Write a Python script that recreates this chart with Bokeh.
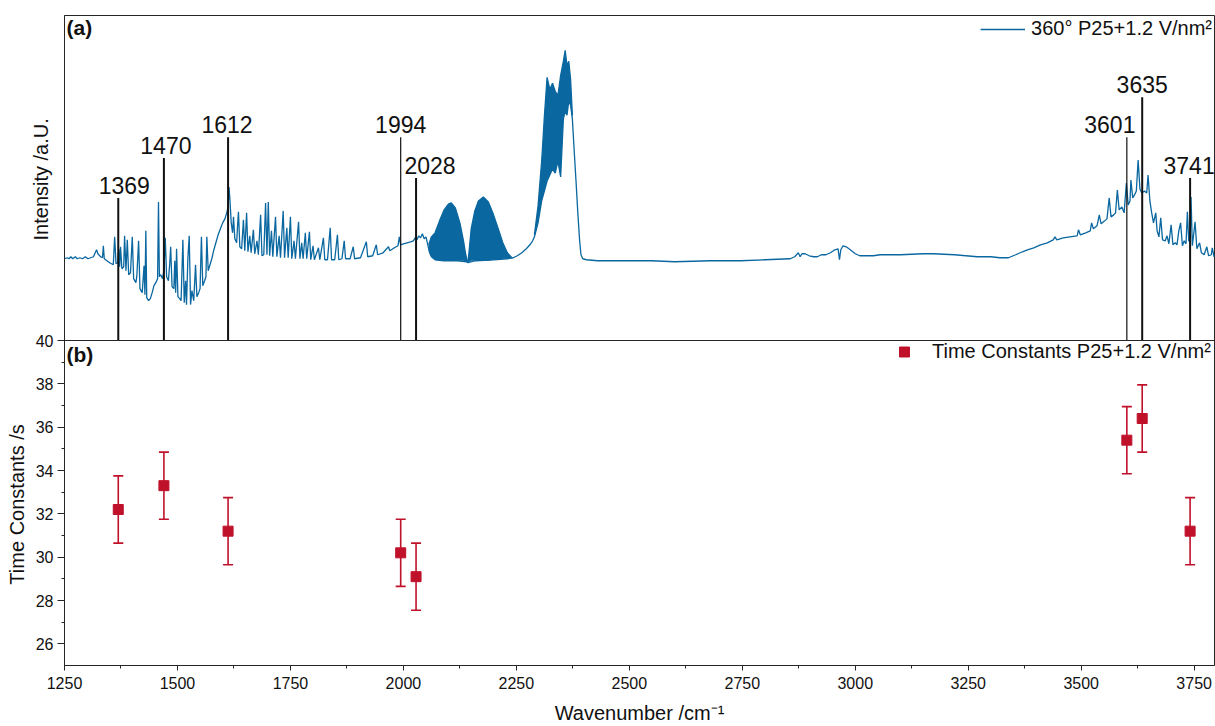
from bokeh.plotting import figure
from bokeh.models import (Range1d, FixedTicker, SingleIntervalTicker, Span, Label,
                          Legend, LegendItem, ColumnDataSource, Whisker, TeeHead)
from bokeh.core.properties import value
from bokeh.embed import file_html
from bokeh.resources import INLINE

FONT = "Liberation Sans"
BLUE = "#0A67A0"
RED = "#C0112B"
DARK = "#262626"
TXT = "#111111"

# ---------------- data ----------------
# IR spectrum, panel (a): wavenumber /cm-1 and intensity (arbitrary units)
spec_wn = [1250, 1256, 1260, 1264, 1268, 1274, 1278, 1284, 1290, 1296, 1302, 1308, 1314, 1318, 1321, 1324, 1330, 1334,
           1336, 1338, 1344, 1350, 1354, 1358, 1361, 1364, 1368, 1370, 1372, 1374, 1377, 1381, 1383, 1386, 1389, 1392,
           1396, 1400, 1403, 1408, 1410, 1414, 1417, 1422, 1426, 1428, 1430, 1432, 1436, 1440, 1444, 1448, 1452, 1456,
           1458, 1460, 1463, 1467, 1470, 1473, 1476, 1480, 1483, 1485, 1488, 1492, 1494, 1496, 1498, 1501, 1505, 1508,
           1510, 1512, 1515, 1518, 1520, 1523, 1526, 1529, 1532, 1536, 1540, 1543, 1547, 1550, 1553, 1556, 1560, 1563,
           1565, 1568, 1572, 1576, 1580, 1585, 1590, 1595, 1600, 1605, 1609, 1612, 1614, 1616, 1619,
           1622, 1624, 1627, 1631, 1633, 1635, 1638, 1642, 1646, 1649, 1653, 1656, 1660, 1663, 1668, 1671, 1676, 1679,
           1684, 1687, 1691, 1695, 1698, 1701, 1704, 1708, 1711, 1717, 1720, 1725, 1728, 1734, 1737, 1742, 1745, 1750,
           1753, 1758, 1761, 1768, 1771, 1775, 1778, 1783, 1786, 1792, 1795, 1800, 1803, 1812, 1815, 1823, 1826, 1832,
           1838, 1841, 1848, 1854, 1857, 1864, 1869, 1872, 1882, 1889, 1892, 1905, 1918, 1921, 1932, 1940, 1943, 1955,
           1967, 1970, 1980, 1988, 1991, 1994,
           2000, 2008, 2016, 2022, 2026, 2030, 2034, 2038, 2042, 2046, 2050, 2054, 2058, 2062, 2070, 2090, 2120, 2140,
           2143, 2160, 2200, 2230, 2243, 2252, 2262, 2272, 2280, 2286, 2290, 2298, 2306, 2312, 2318, 2324, 2330, 2336,
           2342, 2348, 2354, 2358, 2362, 2366, 2370, 2374, 2378, 2382, 2386, 2390, 2393, 2397, 2405, 2430,
           2496, 2550, 2600, 2680, 2746, 2800, 2856, 2866, 2874, 2878, 2882, 2889, 2898, 2908, 2916, 2925, 2935, 2945,
           2955, 2962, 2965, 2968, 2973, 2980, 2989, 3000, 3010, 3018, 3040, 3055, 3100, 3150, 3173, 3220, 3270, 3300,
           3320, 3339,
           3355, 3370, 3381, 3395, 3410, 3425, 3438, 3442, 3446, 3460, 3475, 3491, 3494, 3498, 3510, 3520, 3523, 3527,
           3535, 3540, 3544, 3552, 3557, 3562, 3566, 3572, 3576, 3580, 3584, 3590, 3595, 3600, 3604, 3608, 3610, 3614,
           3618, 3622, 3626, 3630, 3634, 3640, 3645, 3648, 3652, 3656, 3660, 3665, 3668, 3672, 3676, 3680, 3686, 3690,
           3694, 3699, 3703, 3708, 3712, 3716, 3720, 3724, 3728, 3732, 3735, 3738, 3741, 3743, 3746, 3752, 3756, 3762,
           3766, 3772, 3778, 3782, 3788, 3790, 3794, 3796]
spec_int = [82, 83, 82, 84, 82, 84, 82, 83, 82, 84, 82, 83, 84, 88, 91, 87, 84, 83,
            95, 82, 80, 78, 77, 76, 104, 77, 78, 92, 74, 94, 72, 74, 105, 70, 101, 66,
            68, 104, 62, 58, 64, 100, 52, 48, 75, 46, 110, 43, 40, 42, 48, 55, 58, 62,
            139, 64, 66, 62, 70, 103, 64, 60, 78, 94, 54, 52, 80, 48, 92, 44, 42, 40,
            70, 101, 38, 60, 36, 82, 105, 36, 50, 40, 76, 44, 48, 52, 104, 55, 60, 64,
            104, 70, 76, 82, 90, 98, 106, 112, 118, 122, 128, 134, 154, 142, 118,
            108, 124, 102, 98, 115, 129, 94, 92, 121, 90, 128, 89, 105, 88, 111, 87, 100, 86,
            126, 85, 86, 138, 86, 139, 85, 110, 84, 124, 84, 105, 83, 130, 83, 113, 83, 124,
            82, 100, 82, 119, 82, 98, 82, 108, 82, 109, 81, 95, 81, 93, 81, 103, 81, 81,
            113, 81, 81, 106, 81, 82, 100, 82, 82, 94, 82, 83, 99, 84, 85, 96, 86, 88,
            94, 90, 93, 95, 104, 96,
            97, 98, 99, 100, 103, 101, 105, 103, 107, 102, 104, 96, 88, 84, 81, 80, 80, 79,
            78, 80, 81, 82, 83, 85, 88, 92, 96, 100, 104, 118, 140, 150, 160, 166, 172, 168,
            180, 164, 222, 230, 226, 240, 236, 222, 190, 160, 128, 100, 86, 82, 81, 80,
            80, 80, 79, 80, 80, 81, 82, 84, 88, 84, 87, 87, 85, 84, 84, 86, 86, 88,
            91, 92, 81, 91, 95, 94, 91, 87, 85, 85, 85, 86, 86, 87, 87, 86, 84, 84,
            83, 83,
            86, 89, 91, 93, 96, 98, 101, 104, 101, 103, 104, 105, 111, 106, 108, 110, 118, 112,
            115, 126, 117, 120, 122, 143, 124, 126, 128, 151, 131, 134, 128, 158, 136, 140, 161, 143,
            146, 150, 181, 152, 148, 150, 148, 166, 140, 128, 118, 128, 110, 104, 123, 101, 100, 105,
            97, 116, 96, 98, 96, 110, 118, 95, 100, 97, 129, 100, 99, 144, 95, 119, 92, 98,
            88, 86, 94, 85, 86, 93, 84, 85]

# densely packed rotational bands, drawn as filled envelopes (low / high)
band1_wn = [2056, 2062, 2070, 2080, 2090, 2100, 2106, 2115, 2125, 2133, 2138, 2142]
band1_hi = [96, 104, 108, 120, 131, 137, 138, 133, 118, 100, 86, 79]
band1_lo = [90, 84, 81, 80, 80, 80, 80, 80, 80, 80, 79, 78]
band2_wn = [2143, 2150, 2158, 2166, 2177, 2188, 2198, 2210, 2220, 2230, 2240]
band2_hi = [78, 112, 130, 140, 144, 139, 128, 112, 98, 88, 83]
band2_lo = [78, 80, 80, 80, 80, 80, 81, 81, 82, 82, 83]
band3_wn = [2290, 2298, 2306, 2312, 2318, 2324, 2330, 2336, 2342, 2348, 2354, 2358, 2362, 2366, 2370, 2374]
band3_hi = [106, 135, 180, 225, 264, 252, 258, 250, 246, 266, 280, 291, 276, 280, 262, 226]
band3_lo = [104, 118, 140, 150, 160, 166, 172, 168, 180, 164, 222, 230, 226, 240, 236, 222]

# marked peaks and their time constants, panel (b)
peaks = [1369, 1470, 1612, 1994, 2028, 3601, 3635, 3741]
peak_labels = ["1369", "1470", "1612", "1994", "2028", "3601", "3635", "3741"]
peak_line_tops = [143, 183, 204, 204, 163, 204, 244, 163]
time_const = [32.2, 33.3, 31.2, 30.2, 29.1, 35.4, 36.4, 31.2]
time_err = [1.55, 1.55, 1.55, 1.55, 1.55, 1.55, 1.55, 1.55]

x_ticks_interval = 250
y_ticks = [26, 28, 30, 32, 34, 36, 38, 40]
y_minor = [27, 29, 31, 33, 35, 37, 39]

# annotation styling (pixel offsets / widths), not data
label_dx = [6, 2, -1, 0, 14, -17, 0, -1]
peak_line_w = [2, 2, 2, 1.2, 2, 1.2, 2, 2]

# the two y-axis titles share one (two-line) axis label; padding shifts each
# line onto its own panel (lower line -> panel (b), upper line -> panel (a))
PAD = "\u00a0"
y_title = ("Time Constants /s" + PAD * 59) + "\n" + (PAD * 58 + "Intensity /a.U.")

# ---------------- single figure holding both panels ----------------
# lower half: time constants (25..40); upper half: spectrum on its own range
p = figure(width=1215, height=726, output_backend="svg", toolbar_location=None,
           x_range=Range1d(1250, 3795), y_range=Range1d(25, 55),
           min_border_left=64, min_border_right=1, min_border_top=15, min_border_bottom=61)
p.extra_y_ranges = {"spec": Range1d(-326, 326)}
p.grid.visible = False
p.outline_line_color = DARK

xa = p.xaxis[0]
xa.ticker = SingleIntervalTicker(interval=x_ticks_interval, num_minor_ticks=2)
xa.axis_label = "Wavenumber /cm\u207b\u00b9"
xa.axis_label_text_font = FONT
xa.axis_label_text_font_size = "20px"
xa.axis_label_text_font_style = "normal"
xa.axis_label_text_color = TXT
xa.axis_label_standoff = 10
xa.major_label_text_font = FONT
xa.major_label_text_font_size = "16px"
xa.major_label_text_color = TXT
xa.major_label_standoff = 6
xa.major_tick_out = 5
xa.major_tick_in = 0
xa.minor_tick_out = 3
xa.minor_tick_in = 0
xa.axis_line_color = DARK
xa.major_tick_line_color = DARK
xa.minor_tick_line_color = DARK

ya = p.yaxis[0]
ya.ticker = FixedTicker(ticks=y_ticks, minor_ticks=y_minor)
ya.axis_label = y_title
ya.axis_label_standoff = -19
ya.axis_label_text_line_height = 1.1
ya.major_label_text_font = FONT
ya.major_label_text_font_size = "16px"
ya.major_label_text_color = TXT
ya.major_label_standoff = 4
ya.major_tick_out = 7
ya.major_tick_in = 0
ya.minor_tick_out = 3
ya.minor_tick_in = 0
ya.axis_line_color = DARK
ya.major_tick_line_color = DARK
ya.minor_tick_line_color = DARK
ya.axis_label_text_font = FONT
ya.axis_label_text_font_size = "20px"
ya.axis_label_text_font_style = "normal"
ya.axis_label_text_color = TXT

# separator between the two panels
p.add_layout(Span(location=40, dimension="width", line_color=DARK, line_width=1))

# ---------------- panel (a): spectrum ----------------
for bx, blo, bhi in [(band1_wn, band1_lo, band1_hi), (band2_wn, band2_lo, band2_hi),
                     (band3_wn, band3_lo, band3_hi)]:
    p.varea(x=bx, y1=blo, y2=bhi, y_range_name="spec", fill_color=BLUE)
    p.line(bx, bhi, y_range_name="spec", line_color=BLUE, line_width=1.3)
spec_line = p.line(spec_wn, spec_int, y_range_name="spec", line_color=BLUE, line_width=1.3)

pk = ColumnDataSource(dict(x=peaks, top=peak_line_tops, base=[0] * len(peaks), lab=peak_labels,
                           dx=label_dx, lw=peak_line_w))
p.segment(x0="x", y0="base", x1="x", y1="top", source=pk, y_range_name="spec",
          line_color=TXT, line_width="lw")
p.text(x="x", y="top", text="lab", source=pk, y_range_name="spec", x_offset="dx", y_offset=-4,
       text_align="center", text_baseline="bottom", text_font=value(FONT),
       text_font_size="23px", text_color=TXT)

p.add_layout(Label(x=1250, y=326, y_range_name="spec", text="(a)", x_offset=2, y_offset=0,
                   text_baseline="top", text_font=FONT, text_font_size="21px",
                   text_font_style="bold", text_color=TXT))

# ---------------- panel (b): time constants ----------------
tc = ColumnDataSource(dict(x=peaks, y=time_const,
                           upper=[v + e for v, e in zip(time_const, time_err)],
                           lower=[v - e for v, e in zip(time_const, time_err)]))
p.add_layout(Whisker(source=tc, base="x", upper="upper", lower="lower", dimension="height",
                     line_color=RED, line_width=1.6,
                     upper_head=TeeHead(size=10, line_color=RED, line_width=1.6),
                     lower_head=TeeHead(size=10, line_color=RED, line_width=1.6)))
sc = p.scatter("x", "y", source=tc, marker="square", size=10, fill_color=RED, line_color=RED)

p.add_layout(Label(x=1250, y=40, text="(b)", x_offset=2, y_offset=-2,
                   text_baseline="top", text_font=FONT, text_font_size="21px",
                   text_font_style="bold", text_color=TXT))

# ---------------- legends ----------------
leg1 = Legend(items=[LegendItem(label="360\u00b0 P25+1.2 V/nm\u00b2", renderers=[spec_line])],
              location="top_right", margin=0, padding=2, spacing=0,
              glyph_width=45, glyph_height=20, label_height=20, label_standoff=6,
              label_text_font=FONT, label_text_font_size="20px", label_text_color=TXT,
              border_line_alpha=0, background_fill_alpha=0)
leg2 = Legend(items=[LegendItem(label="Time Constants P25+1.2 V/nm\u00b2", renderers=[sc])],
              location=(818, 299), margin=0, padding=2, spacing=0,
              glyph_width=40, glyph_height=25, label_height=20, label_standoff=8,
              label_text_font=FONT, label_text_font_size="20px", label_text_color=TXT,
              border_line_alpha=0, background_fill_alpha=0)
p.add_layout(leg1, "center")
p.add_layout(leg2, "center")

open("out.html", "w").write(file_html(p, INLINE))
